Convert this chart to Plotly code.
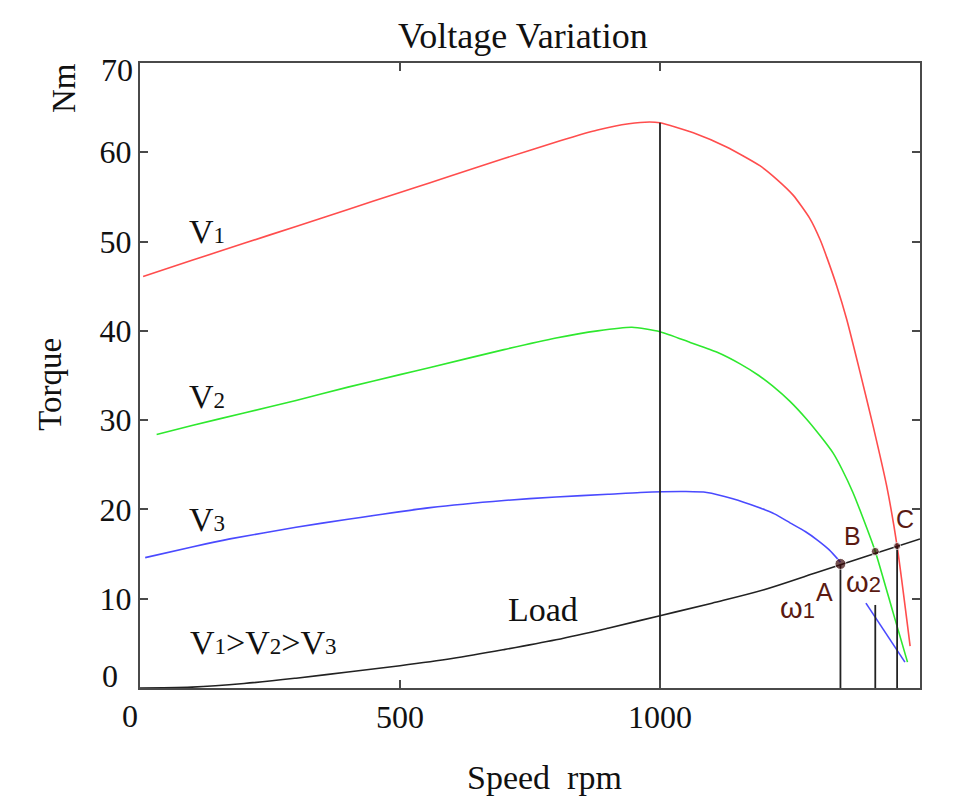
import plotly.graph_objects as go

# ---- data ----
v1_speed = [6, 100, 200, 300, 400, 500, 558, 600, 700, 808, 880, 940, 980, 1000, 1064, 1128, 1192, 1224, 1256, 1288, 1308, 1321, 1340, 1359, 1385, 1410, 1436, 1456, 1481]
v1_torque = [46.1, 47.9, 49.8, 51.7, 53.6, 55.5, 56.6, 57.4, 59.3, 61.3, 62.5, 63.2, 63.4, 63.3, 62.2, 60.6, 58.5, 57.0, 55.2, 52.6, 50.2, 48.2, 45.0, 41.3, 35.3, 29.3, 22.6, 15.9, 4.7]

v2_speed = [32, 100, 200, 300, 400, 500, 558, 700, 800, 880, 946, 1000, 1058, 1110, 1154, 1190, 1217, 1250, 1282, 1310, 1333, 1350, 1371, 1390, 1414, 1448, 1476]
v2_torque = [28.4, 29.4, 30.8, 32.2, 33.7, 35.1, 35.9, 37.9, 39.2, 40.0, 40.4, 39.9, 38.7, 37.6, 36.3, 35.0, 33.8, 32.1, 30.1, 28.1, 26.3, 24.5, 21.9, 19.1, 15.3, 8.5, 2.9]

v3_speed = [10, 100, 173, 300, 400, 558, 700, 800, 900, 962, 1050, 1090, 1140, 1186, 1220, 1250, 1280, 1302, 1325, 1347, None, 1396, 1471]
v3_torque = [14.6, 15.8, 16.7, 18.0, 18.9, 20.2, 21.0, 21.4, 21.7, 21.9, 22.0, 21.9, 21.2, 20.3, 19.5, 18.5, 17.5, 16.6, 15.5, 14.1, None, 9.5, 2.9]

load_speed = [0, 100, 200, 300, 400, 500, 600, 700, 800, 900, 1000, 1100, 1200, 1300, 1400, 1500]
load_torque = [0.0, 0.1, 0.5, 1.1, 1.8, 2.5, 3.3, 4.3, 5.4, 6.7, 8.1, 9.5, 11.0, 12.9, 14.8, 16.7]

# operating points A, B, C (intersection of load with V3, V2, V1)
op_speed = [1347, 1414, 1456]
op_torque = [13.9, 15.3, 15.9]
op_size = [11, 8, 7]

# vertical guide lines: (speed, top torque)
guide_speed = [1000, 1347, 1414, 1456]
guide_top = [63.3, 13.9, 9.3, 15.9]

x_ticks = [0, 500, 1000, 1500]
x_tick_text = ["", "500", "1000", ""]
y_ticks = [0, 10, 20, 30, 40, 50, 60, 70]
y_tick_text = ["", "10", "20", "30", "40", "50", "60", ""]

SERIF = "Liberation Serif"
SANS = "Liberation Sans"
TXT = "#111111"
BROWN = "#5a1a12"
AX = "#4a4a4a"

fig = go.Figure()

fig.add_trace(go.Scatter(x=v1_speed, y=v1_torque, mode="lines",
                         line=dict(color="#ff4d4d", width=1.6, shape="spline", smoothing=0.6)))
fig.add_trace(go.Scatter(x=v2_speed, y=v2_torque, mode="lines",
                         line=dict(color="#2ee82e", width=1.6, shape="spline", smoothing=0.6)))
fig.add_trace(go.Scatter(x=v3_speed, y=v3_torque, mode="lines", connectgaps=False,
                         line=dict(color="#4a4aff", width=1.6, shape="spline", smoothing=0.6)))
fig.add_trace(go.Scatter(x=load_speed, y=load_torque, mode="lines",
                         line=dict(color="#222222", width=1.6, shape="spline", smoothing=1.0)))

gx, gy = [], []
for s, t in zip(guide_speed, guide_top):
    gx += [s, s, None]
    gy += [0, t, None]
fig.add_trace(go.Scatter(x=gx, y=gy, mode="lines", line=dict(color="#222222", width=1.8)))

fig.add_trace(go.Scatter(x=op_speed, y=op_torque, mode="markers",
                         marker=dict(color="#3a0808", size=op_size)))

ann = []
def txt(x, y, s, size=34, font=SERIF, color=TXT, angle=0, xref="x", yref="y"):
    ann.append(dict(x=x, y=y, xref=xref, yref=yref, text=s, showarrow=False,
                    textangle=angle, font=dict(family=font, size=size, color=color),
                    xanchor="center", yanchor="middle"))

def px(xp, yp):
    # convert page pixel position to plot-area (paper) coordinates
    return (xp - 140) / 780, (688.5 - yp) / 625.5

sub = "<span style='font-size:23px'>%s</span>"
txt(129, 51.1, "V" + sub % "1")
txt(129, 32.7, "V" + sub % "2")
txt(129, 18.9, "V" + sub % "3")
txt(775, 8.8, "Load")
txt(237, 5.1, "V" + sub % "1" + "&gt;V" + sub % "2" + "&gt;V" + sub % "3")

txt(1371, 17.0, "B", size=25, font=SANS, color=BROWN)
txt(1471, 18.9, "C", size=25, font=SANS, color=BROWN)
txt(1317, 10.7, "A", size=25, font=SANS, color=BROWN)
wsub = "<span style='font-size:22px'>%s</span>"
txt(1265, 9.0, "ω" + wsub % "1", size=29, font=SANS, color=BROWN)
txt(1392, 11.9, "ω" + wsub % "2", size=29, font=SANS, color=BROWN)
txt(1489, -1.4, "ω" + wsub % "3", size=29, font=SANS, color=BROWN)

# corner tick labels placed as in the reference
for (xp, yp), s in [((110, 676), y_ticks[0]), ((117, 70), y_ticks[-1]), ((130, 717), x_ticks[0])]:
    ax_, ay_ = px(xp, yp)
    txt(ax_, ay_, str(s), size=32, xref="paper", yref="paper")

# titles (positions relative to the plot area)
tx, ty = px(523, 36)
txt(tx, ty, "Voltage Variation", size=36, xref="paper", yref="paper")
tx, ty = px(544, 778)
txt(tx, ty, "Speed\u00a0 rpm", size=34, xref="paper", yref="paper")
tx, ty = px(50, 385)
txt(tx, ty, "Torque", size=33, angle=-90, xref="paper", yref="paper")
tx, ty = px(64, 88)
txt(tx, ty, "Nm", size=33, angle=-90, xref="paper", yref="paper")

# page body has an 8px margin, so the figure is offset by 8px
fig.update_layout(
    width=963, height=795,
    margin=dict(l=132, r=51, t=55, b=115),
    paper_bgcolor="white", plot_bgcolor="white",
    showlegend=False,
    annotations=ann,
    xaxis=dict(range=[0, 1500], tickvals=x_ticks, ticktext=x_tick_text,
               ticks="inside", ticklen=8, tickwidth=1.5, tickcolor=AX,
               showline=True, linecolor=AX, linewidth=2, mirror="ticks",
               showgrid=False, zeroline=False,
               tickfont=dict(family=SERIF, size=32, color=TXT), ticklabelstandoff=0),
    yaxis=dict(range=[0, 70], tickvals=y_ticks, ticktext=y_tick_text,
               ticks="inside", ticklen=8, tickwidth=1.5, tickcolor=AX,
               showline=True, linecolor=AX, linewidth=2, mirror="ticks",
               showgrid=False, zeroline=False,
               tickfont=dict(family=SERIF, size=32, color=TXT), ticklabelstandoff=0),
)

fig.write_html("out.html")
